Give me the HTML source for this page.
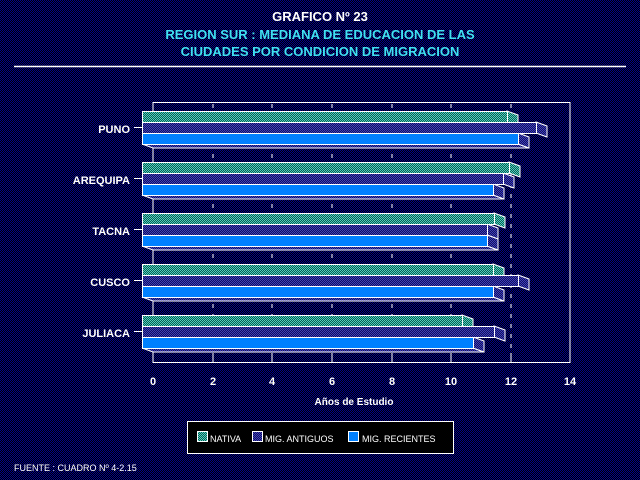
<!DOCTYPE html>
<html><head><meta charset="utf-8"><style>
html,body{margin:0;padding:0;background:#000;}
svg{display:block;font-family:"Liberation Sans",sans-serif;font-weight:bold;}
</style></head><body>
<svg width="640" height="480" xmlns="http://www.w3.org/2000/svg">
<defs>
<pattern id="bg" width="2" height="2" patternUnits="userSpaceOnUse"><rect width="2" height="2" fill="#000"/><rect width="1" height="1" fill="#000090"/><rect x="1" y="1" width="1" height="1" fill="#000090"/></pattern>
<pattern id="nat" width="2" height="2" patternUnits="userSpaceOnUse"><rect width="2" height="2" fill="#0a5a50"/><rect width="1" height="1" fill="#50d0c0"/><rect x="1" y="1" width="1" height="1" fill="#50d0c0"/></pattern>
<pattern id="ant" width="2" height="2" patternUnits="userSpaceOnUse"><rect width="2" height="2" fill="#101060"/><rect width="1" height="1" fill="#4040b8"/><rect x="1" y="1" width="1" height="1" fill="#4040b8"/></pattern>
</defs>
<rect width="640" height="480" fill="url(#bg)"/>
<text x="320" y="21" fill="#fff" font-size="13" text-anchor="middle">GRAFICO Nº 23</text>
<text x="320" y="39" fill="#40e0f0" font-size="13" text-anchor="middle">REGION SUR : MEDIANA DE EDUCACION DE LAS</text>
<text x="320" y="56" fill="#40e0f0" font-size="13" text-anchor="middle">CIUDADES POR CONDICION DE MIGRACION</text>
<line x1="14" y1="66.5" x2="626" y2="66.5" stroke="#fff" stroke-width="1.5"/>
<g stroke="#fff" stroke-width="1" fill="none">
<polyline points="153,363 153,102.5 570,102.5 570,363"/>
<line x1="153" y1="362.5" x2="570" y2="362.5"/>
<g stroke-dasharray="4,6">
<line x1="213" y1="104" x2="213" y2="352"/><line x1="272" y1="104" x2="272" y2="352"/><line x1="332" y1="104" x2="332" y2="352"/><line x1="392" y1="104" x2="392" y2="352"/><line x1="451" y1="104" x2="451" y2="352"/><line x1="511" y1="104" x2="511" y2="352"/>
</g>
<line x1="213" y1="353" x2="213" y2="363"/><line x1="272" y1="353" x2="272" y2="363"/><line x1="332" y1="353" x2="332" y2="363"/><line x1="392" y1="353" x2="392" y2="363"/><line x1="451" y1="353" x2="451" y2="363"/><line x1="511" y1="353" x2="511" y2="363"/>
</g>
<g id="bars" stroke="#fff" stroke-width="1"></g>
<g fill="#fff" font-size="11" text-anchor="end">
<text x="130" y="133">PUNO</text><text x="130" y="184">AREQUIPA</text><text x="130" y="235">TACNA</text><text x="130" y="286">CUSCO</text><text x="130" y="337">JULIACA</text>
</g>
<g fill="#fff" font-size="11" text-anchor="middle">
<text x="153" y="385">0</text><text x="213" y="385">2</text><text x="272" y="385">4</text><text x="332" y="385">6</text><text x="392" y="385">8</text><text x="451" y="385">10</text><text x="511" y="385">12</text><text x="570" y="385">14</text>
<text x="354" y="405" font-size="10">Años de Estudio</text>
</g>
<rect x="187.5" y="421.5" width="266" height="32" fill="#000" stroke="#fff"/>
<rect x="197.5" y="431.5" width="10" height="10" fill="url(#nat)" stroke="#fff"/>
<text x="210" y="442" fill="#fff" font-size="9" font-weight="normal">NATIVA</text>
<rect x="252.5" y="431.5" width="10" height="10" fill="url(#ant)" stroke="#fff"/>
<text x="265" y="442" fill="#fff" font-size="9" font-weight="normal">MIG. ANTIGUOS</text>
<rect x="348.5" y="431.5" width="10" height="10" fill="#0080ff" stroke="#fff"/>
<text x="362" y="442" fill="#fff" font-size="9" font-weight="normal">MIG. RECIENTES</text>
<text x="14" y="471" fill="#fff" font-size="9" font-weight="normal">FUENTE : CUADRO Nº 4-2.15</text>
<script>
var g=document.getElementById('bars');
var tops=[111,162,213,264,315];
var ends=[[507,536,518],[509,503,493],[494,487,487],[493,518,493],[462,494,473]];
var fills=['url(#nat)','url(#ant)','#0080ff'];
var ns='http://www.w3.org/2000/svg';
function el(t,a){var e=document.createElementNS(ns,t);for(var k in a)e.setAttribute(k,a[k]);g.appendChild(e);return e;}
tops.forEach(function(t,i){
 var yb=t+33;
 var xe=ends[i][2];
 el('polygon',{points:'142,'+yb+' 153,'+(yb+4)+' '+(xe+11)+','+(yb+4)+' '+xe+','+yb,fill:'url(#ant)'});
 el('line',{x1:134,y1:t+16.5,x2:142,y2:t+16.5});
 for(var j=0;j<3;j++){
  var y0=t+j*11,y1=y0+11,x=ends[i][j];
  el('polygon',{points:x+','+y0+' '+(x+11)+','+(y0+4)+' '+(x+11)+','+(y1+4)+' '+x+','+y1,fill:fills[j]==='#0080ff'?'url(#ant)':fills[j]});
 }
 for(var j=0;j<3;j++){
  var y0=t+j*11,x=ends[i][j];
  el('rect',{x:142.5,y:y0+0.5,width:x-142,height:11,fill:fills[j]});
 }
});
</script>
</svg>
</body></html>
